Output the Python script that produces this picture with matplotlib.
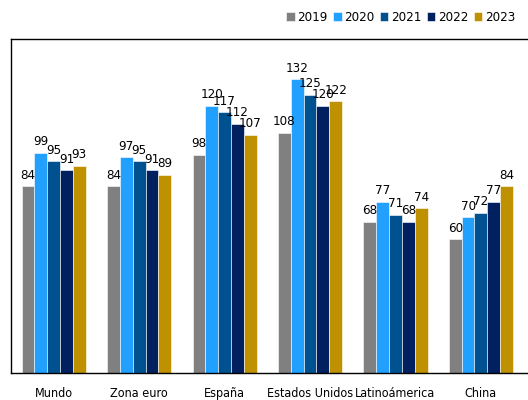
import matplotlib.pyplot as plt
import numpy as np

regions = ['Mundo', 'Zona euro', 'España', 'Estados Unidos', 'Latinoámerica', 'China']
years = ['2019', '2020', '2021', '2022', '2023']
values = {
    '2019': [84, 84, 98, 108, 68, 60],
    '2020': [99, 97, 120, 132, 77, 70],
    '2021': [95, 95, 117, 125, 71, 72],
    '2022': [91, 91, 112, 120, 68, 77],
    '2023': [93, 89, 107, 122, 74, 84],
}
colors = ['#808080', '#22a0ff', '#005190', '#002060', '#bf9000']

plt.rcParams['font.family'] = ['DejaVu Sans']
plt.rcParams['font.stretch'] = 'condensed'


def main():
    fig = plt.figure(figsize=(5.28, 4.0), dpi=100)
    ax = fig.add_axes([11 / 528, 27 / 400, 1.0, 334 / 400])

    x = np.arange(len(regions))
    w = 0.15
    for i, yr in enumerate(years):
        pos = x + (i - 2) * w
        bars = ax.bar(pos, values[yr], w, color=colors[i], label=yr,
                      edgecolor='white', linewidth=0.4)
        for b, v in zip(bars, values[yr]):
            ax.text(b.get_x() + b.get_width() / 2, v + 2, str(v),
                    ha='center', va='bottom', fontsize=9.5, stretch='condensed')

    ax.set_ylim(0, 150)
    ax.set_xlim(-0.5, 5.68)
    ax.set_yticks([])
    ax.set_xticks(x)
    ax.set_xticklabels(regions, fontsize=9, stretch='condensed')
    ax.tick_params(axis='x', length=0, pad=10)
    ax.spines['right'].set_visible(False)
    for s in ['left', 'bottom', 'top']:
        ax.spines[s].set_linewidth(1.0)

    fig.legend(loc='upper right', bbox_to_anchor=(0.997, 1.0), ncol=5, frameon=False,
               prop={'size': 9.5, 'stretch': 'condensed'},
               handlelength=0.65, handleheight=0.65, handletextpad=0.2,
               columnspacing=0.4, borderaxespad=0.45)

    fig.savefig('out.png', dpi=100)


if __name__ == "__main__":
    main()
